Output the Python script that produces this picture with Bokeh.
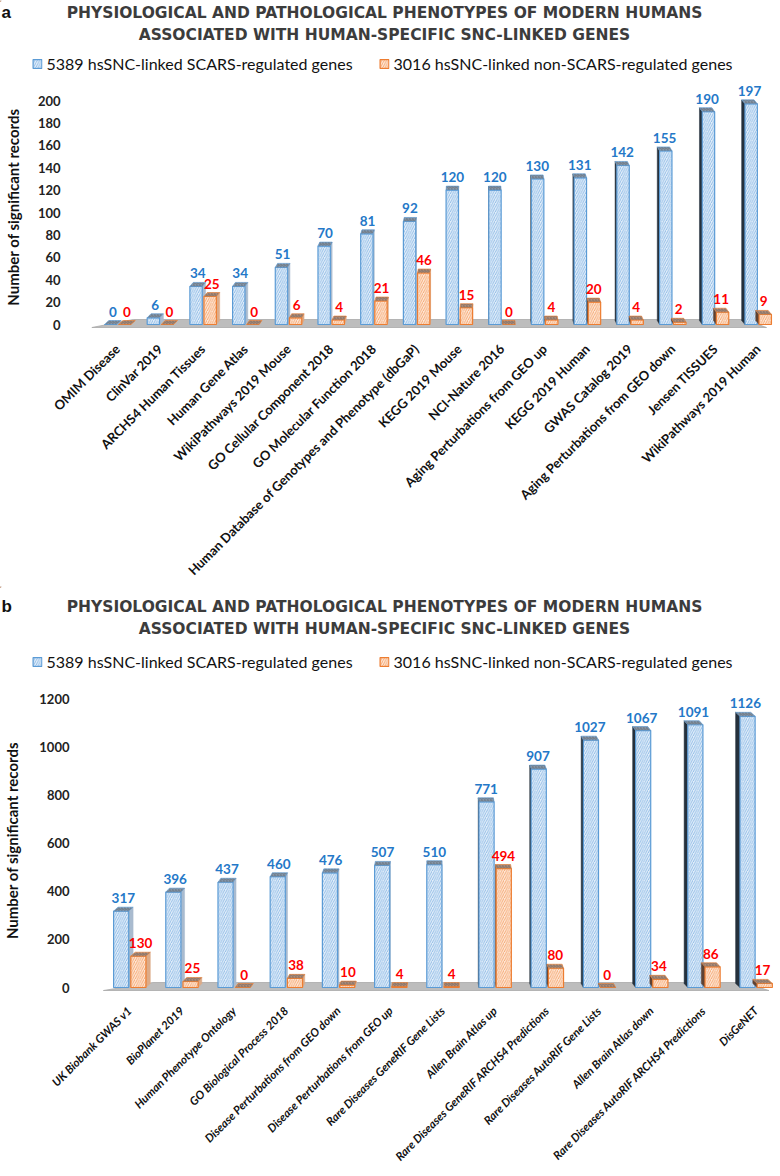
import math
from bokeh.plotting import figure
from bokeh.models import Range1d, FixedTicker, Legend, LegendItem, ColumnDataSource
from bokeh.layouts import column
from bokeh.embed import file_html
from bokeh.resources import INLINE
from bokeh.core.properties import value

# ---------------- data ----------------
cats_a = ["OMIM Disease", "ClinVar 2019", "ARCHS4 Human Tissues", "Human Gene Atlas",
          "WikiPathways 2019 Mouse", "GO Cellular Component 2018", "GO Molecular Function 2018",
          "Human Database of Genotypes and Phenotype (dbGaP)", "KEGG 2019 Mouse", "NCI-Nature 2016",
          "Aging Perturbations from GEO up", "KEGG 2019 Human", "GWAS Catalog 2019",
          "Aging Perturbations from GEO down", "Jensen TISSUES", "WikiPathways 2019 Human"]
scars_a = [0, 6, 34, 34, 51, 70, 81, 92, 120, 120, 130, 131, 142, 155, 190, 197]
non_a = [0, 0, 25, 0, 6, 4, 21, 46, 15, 0, 4, 20, 4, 2, 11, 9]
ticks_a = [0, 20, 40, 60, 80, 100, 120, 140, 160, 180, 200]

cats_b = ["UK Biobank GWAS v1", "BioPlanet 2019", "Human Phenotype Ontology",
          "GO Biological Process 2018", "Disease Perturbations from GEO down",
          "Disease Perturbations from GEO up", "Rare Diseases GeneRIF Gene Lists",
          "Allen Brain Atlas up", "Rare Diseases GeneRIF ARCHS4 Predictions",
          "Rare Diseases AutoRIF Gene Lists", "Allen Brain Atlas down",
          "Rare Diseases AutoRIF ARCHS4 Predictions", "DisGeNET"]
scars_b = [317, 396, 437, 460, 476, 507, 510, 771, 907, 1027, 1067, 1091, 1126]
non_b = [130, 25, 0, 38, 10, 4, 4, 494, 80, 0, 34, 86, 17]
ticks_b = [0, 200, 400, 600, 800, 1000, 1200]

title_lines = ["PHYSIOLOGICAL AND PATHOLOGICAL PHENOTYPES OF MODERN HUMANS",
               "ASSOCIATED WITH HUMAN-SPECIFIC SNC-LINKED GENES"]
series_names = ["5389 hsSNC-linked SCARS-regulated genes",
                "3016 hsSNC-linked non-SCARS-regulated genes"]
y_title = "Number of significant records"

# ---------------- style ----------------
FONT = "Lato"
TFONT = "DejaVu Sans"
BLUE_FILL, BLUE_LINE, BLUE_HATCH = "#e2eefa", "#5b9bd5", "#7fb1e2"
ORA_FILL, ORA_LINE, ORA_HATCH = "#fee8d8", "#ed7d31", "#f39a5c"
BLUE_CAP, ORA_CAP = "#8496aa", "#ae8c78"
BLUE_SIDE_LIT, BLUE_SIDE_DARK = "#a9bbcf", "#25313d"
ORA_SIDE_LIT, ORA_SIDE_DARK = "#dcab88", "#5e4233"
BLUE_TXT, RED_TXT = "#2478c8", "#ff0000"
W = 764


def no_align(p):
    if "frame_align" in p.properties():
        p.frame_align = False


def bar_style(fill, line, hatch):
    return dict(fill_color=fill, line_color=line, line_width=1.2, hatch_pattern="/",
                hatch_color=hatch, hatch_scale=4.5, hatch_weight=0.8)


def make_header(letter, H, letter_y, title_y, legend_top):
    p = figure(width=W, height=H, x_range=Range1d(0, W), y_range=Range1d(H, 0),
               output_backend="svg", toolbar_location=None,
               x_axis_location=None, y_axis_location=None,
               min_border_left=0, min_border_right=0, min_border_top=0, min_border_bottom=0)
    no_align(p)
    p.outline_line_color = None
    p.grid.visible = False
    p.text(x=[1], y=[letter_y], text=[letter], text_font=value("Liberation Sans"),
           text_font_style="bold", text_font_size="17px", text_color="#111111",
           text_baseline="middle", text_align="left")
    p.text(x=[384] * 2, y=title_y, text=title_lines, text_font=value(TFONT),
           text_font_style="bold", text_font_size="15.5px", text_color="#3c3c3c",
           text_baseline="middle", text_align="center")
    r1 = p.vbar(x=[-1000], top=[1], width=1, **bar_style(BLUE_FILL, BLUE_LINE, BLUE_HATCH))
    r2 = p.vbar(x=[-1000], top=[1], width=1, **bar_style(ORA_FILL, ORA_LINE, ORA_HATCH))
    legend = Legend(items=[LegendItem(label=series_names[0], renderers=[r1]),
                           LegendItem(label=series_names[1], renderers=[r2])],
                    orientation="horizontal", location="top_center",
                    background_fill_alpha=0, border_line_color=None,
                    label_text_font=FONT, label_text_font_size="16px",
                    label_text_color="#111111", glyph_width=11, glyph_height=11,
                    label_standoff=4, spacing=26, padding=0, margin=legend_top,
                    label_height=16)
    p.add_layout(legend)
    return p


def make_chart(cats, s1, s2, ticks, left, frame_w, frame_top_pg, top_tick_pg, zero_pg,
               frame_bot_pg, bottom, first_pg, step_px, k_p, c_p, lab_style,
               lab_size, tick_standoff, ylab_standoff, floor_x):
    n = len(cats)
    scale = (zero_pg - top_tick_pg) / ticks[-1]
    x0 = -(first_pg - 8 - left) / step_px
    x1 = x0 + frame_w / step_px
    y1 = (zero_pg - frame_top_pg) / scale
    y0 = -(frame_bot_pg - zero_pg) / scale
    frame_h = frame_bot_pg - frame_top_pg
    p = figure(frame_width=frame_w, frame_height=frame_h,
               x_range=Range1d(x0, x1), y_range=Range1d(y0, y1),
               output_backend="svg", toolbar_location=None,
               min_border_left=left, min_border_right=W - left - frame_w,
               min_border_top=0, min_border_bottom=bottom)
    no_align(p)
    p.outline_line_color = None
    p.xgrid.visible = False
    p.ygrid.visible = False

    hpx = 1.0 / scale
    fl, fr, bl, br = floor_x
    p.patch(x=[fl, n - 1 + fr, n - 1 + br, bl],
            y=[-3 * hpx, -3 * hpx, 5 * hpx, 5 * hpx],
            fill_color="#bdbdbd", line_color="#a9a9a9", line_width=0.8)

    w = 0.29
    cap_h = 4 * hpx
    for si, (vals, off, fill, line, hatch, cap, lit, dark) in enumerate([
            (s1, -0.16, BLUE_FILL, BLUE_LINE, BLUE_HATCH, BLUE_CAP, BLUE_SIDE_LIT, BLUE_SIDE_DARK),
            (s2, 0.17, ORA_FILL, ORA_LINE, ORA_HATCH, ORA_CAP, ORA_SIDE_LIT, ORA_SIDE_DARK)]):
        xs_c, ys_c, xs_s, ys_s, col_s, lx, ly, cxs = [], [], [], [], [], [], [], []
        for i, v in enumerate(vals):
            cx = i + off
            cxs.append(cx)
            d = k_p * (c_p - i)
            xl, xr = cx - w / 2, cx + w / 2
            xs_c.append([xl, xr, xr + d, xl + d])
            ys_c.append([v, v, v + cap_h, v + cap_h])
            e = xr if d >= 0 else xl
            xs_s.append([e, e, e + d, e + d])
            ys_s.append([0, v, v + cap_h, cap_h])
            col_s.append(lit if d >= 0 else dark)
            lx.append(cx + d / 2)
            ly.append(v + cap_h)
        p.patches(xs=xs_s, ys=ys_s, fill_color=col_s, line_color=col_s, line_width=0.5)
        src = ColumnDataSource(dict(x=cxs, top=vals))
        p.vbar(x="x", top="top", width=w, bottom=0, source=src,
               **bar_style(fill, line, hatch))
        p.patches(xs=xs_c, ys=ys_c, fill_color=cap, line_color=line, line_width=0.6,
                  hatch_pattern="/", hatch_color="#5f5f5f", hatch_scale=3, hatch_weight=0.5)
        tsrc = ColumnDataSource(dict(x=lx, y=ly, t=[str(v) for v in vals]))
        p.text(x="x", y="y", text="t", source=tsrc, text_align="center",
               text_baseline="bottom", y_offset=-4, text_font=value(FONT),
               text_font_style="bold", text_font_size="13.5px",
               text_color=BLUE_TXT if si == 0 else RED_TXT)

    p.yaxis.ticker = FixedTicker(ticks=ticks)
    p.yaxis.axis_line_color = None
    p.yaxis.major_tick_line_color = None
    p.yaxis.minor_tick_line_color = None
    p.yaxis.major_label_standoff = tick_standoff
    p.yaxis.major_label_text_font = FONT
    p.yaxis.major_label_text_font_style = "bold"
    p.yaxis.major_label_text_font_size = "13px"
    p.yaxis.major_label_text_color = "#222222"
    p.yaxis.axis_label = y_title
    p.yaxis.axis_label_text_font = FONT
    p.yaxis.axis_label_text_font_style = "bold"
    p.yaxis.axis_label_text_font_size = "15px"
    p.yaxis.axis_label_text_color = "#111111"
    p.yaxis.axis_label_standoff = ylab_standoff

    p.xaxis.ticker = FixedTicker(ticks=list(range(n)))
    p.xaxis.major_label_overrides = {i: c for i, c in enumerate(cats)}
    p.xaxis.major_label_orientation = math.pi / 4
    p.xaxis.axis_line_color = None
    p.xaxis.major_tick_line_color = None
    p.xaxis.minor_tick_line_color = None
    p.xaxis.major_label_standoff = 4
    p.xaxis.major_label_text_font = FONT
    p.xaxis.major_label_text_font_style = lab_style
    p.xaxis.major_label_text_font_size = lab_size
    p.xaxis.major_label_text_color = "#111111"
    return p


# panel a: page y 8..580
ha = make_header("a", H=77, letter_y=12, title_y=[12, 34], legend_top=54)
ca = make_chart(cats_a, scars_a, non_a, ticks_a, left=72, frame_w=692,
                frame_top_pg=85, top_tick_pg=108, zero_pg=332, frame_bot_pg=344, bottom=236,
                first_pg=114, step_px=42.7, k_p=0.012, c_p=8.5,
                lab_style="bold", lab_size="13px", tick_standoff=17, ylab_standoff=13,
                floor_x=(-0.6, 0.2, 0.37, -0.33))
# panel b: page y 580..1168
hb = make_header("b", H=96, letter_y=20, title_y=[20, 42], legend_top=66)
cb = make_chart(cats_b, scars_b, non_b, ticks_b, left=82, frame_w=682,
                frame_top_pg=676, top_tick_pg=692, zero_pg=981, frame_bot_pg=992, bottom=176,
                first_pg=126, step_px=52.2, k_p=0.014, c_p=6,
                lab_style="bold italic", lab_size="11.5px", tick_standoff=18, ylab_standoff=15,
                floor_x=(-0.5, 0.25, 0.45, -0.25))

layout = column(ha, ca, hb, cb, spacing=0)
open("out.html", "w").write(file_html(layout, INLINE))
